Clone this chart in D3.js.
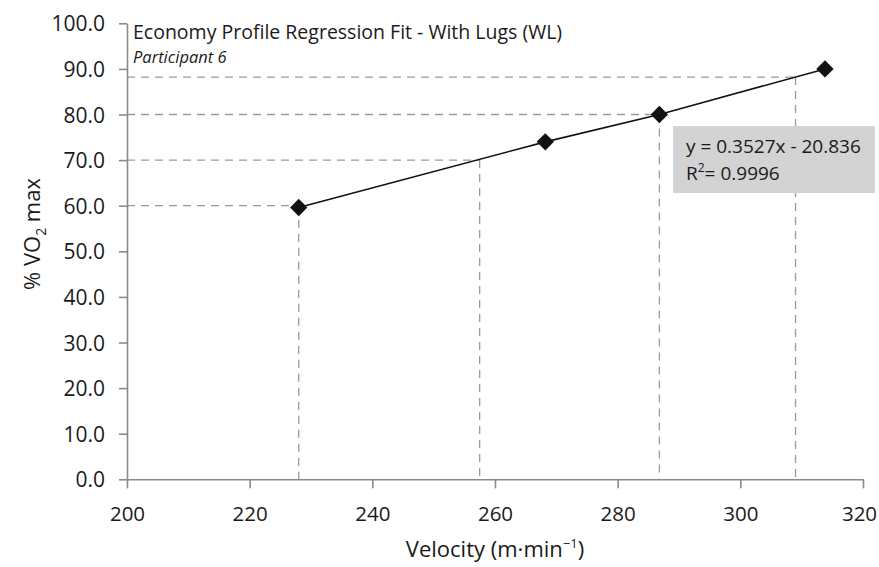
<!DOCTYPE html>
<html><head><meta charset="utf-8">
<script src="https://cdn.jsdelivr.net/npm/d3@7"></script>
<style>body{margin:0;background:#fff}svg{display:block}text{font-family:"Open Sans",sans-serif}</style>
</head><body><svg id="c" width="879" height="567"></svg>
<script>
const velocity = [228, 268.2, 286.8, 313.8];
const vo2 = [59.6, 74.0, 80.0, 90.0];
const guideLevels = [60, 70, 80, 88.2];
const guideVelocities = [228, 257.5, 286.8, 309];
const xTicks = [200, 220, 240, 260, 280, 300, 320];
const yTicks = [0, 10, 20, 30, 40, 50, 60, 70, 80, 90, 100];
const title = "Economy Profile Regression Fit - With Lugs (WL)";
const subtitle = "Participant 6";
const eqLine1 = "y = 0.3527x - 20.836";
const eqR2 = "0.9996";

const svg = d3.select("#c");
const x = d3.scaleLinear().domain([200, 320]).range([127, 863]);
const y = d3.scaleLinear().domain([0, 100]).range([479.3, 23.3]);
const axisColor = "#8a8a8a";

// guides
const g = svg.append("g");
guideLevels.forEach((lv, i) => {
  g.append("line").attr("x1", x(200)).attr("x2", x(guideVelocities[i]))
    .attr("y1", y(lv)).attr("y2", y(lv))
    .attr("stroke", "#9a9a9a").attr("stroke-width", 1.3).attr("stroke-dasharray", "8,6");
  g.append("line").attr("x1", x(guideVelocities[i])).attr("x2", x(guideVelocities[i]))
    .attr("y1", y(lv)).attr("y2", y(0))
    .attr("stroke", "#9a9a9a").attr("stroke-width", 1.3).attr("stroke-dasharray", "8,6");
});

// axes
const xa = svg.append("g").attr("transform", `translate(0,${y(0)})`)
  .call(d3.axisBottom(x).tickValues(xTicks).tickSize(9).tickSizeOuter(0).tickPadding(8).tickFormat(d3.format("d")));
const ya = svg.append("g").attr("transform", `translate(${x(200)},0)`)
  .call(d3.axisLeft(y).tickValues(yTicks).tickSize(8).tickSizeOuter(0).tickPadding(14).tickFormat(d3.format(".1f")));
[xa, ya].forEach(a => {
  a.selectAll("path,line").attr("stroke", axisColor).attr("stroke-width", 1.6);
  a.selectAll("text").attr("fill", "#1a1a1a");
});
ya.selectAll("text").style("font-size", "21px").attr("dy", "0.36em");
xa.selectAll("text").style("font-size", "20.5px").attr("y", 42).attr("dy", null)
  .attr("x", (d, i, n) => i === n.length - 1 ? -4 : 0);

// eq box
svg.append("rect").attr("x", 673).attr("y", 126).attr("width", 202).attr("height", 67).attr("fill", "#d3d3d3");
svg.append("text").attr("x", 686).attr("y", 153).attr("fill", "#1a1a1a").style("font-size", "19px").text(eqLine1);
const r2 = svg.append("text").attr("x", 686).attr("y", 180).attr("fill", "#1a1a1a").style("font-size", "19px");
r2.append("tspan").text("R");
r2.append("tspan").attr("dy", -8).style("font-size", "12px").text("2");
r2.append("tspan").attr("dy", 8).text("= " + eqR2);

// line + points
svg.append("path").datum(velocity.map((v, i) => [v, vo2[i]]))
  .attr("d", d3.line().x(d => x(d[0])).y(d => y(d[1])))
  .attr("fill", "none").attr("stroke", "#111").attr("stroke-width", 1.6);
svg.selectAll(".pt").data(velocity.map((v, i) => [v, vo2[i]])).enter().append("path")
  .attr("transform", d => `translate(${x(d[0])},${y(d[1])}) rotate(45)`)
  .attr("d", d3.symbol().type(d3.symbolSquare).size(150)).attr("fill", "#111");

// titles
svg.append("text").attr("x", 133).attr("y", 39).attr("fill", "#1a1a1a").style("font-size", "19.5px").text(title);
svg.append("text").attr("x", 133).attr("y", 63).attr("fill", "#1a1a1a").style("font-size", "16.5px").style("font-style", "italic").text(subtitle);

const xl = svg.append("text").attr("x", 495).attr("y", 557).attr("text-anchor", "middle").attr("fill", "#1a1a1a").style("font-size", "22px");
xl.append("tspan").text("Velocity (m\u00b7min");
xl.append("tspan").attr("dy", -9).style("font-size", "13px").text("\u22121");
xl.append("tspan").attr("dy", 9).text(")");

const yl = svg.append("text").attr("transform", "translate(40,234) rotate(-90)").attr("text-anchor", "middle").attr("fill", "#1a1a1a").style("font-size", "22px");
yl.append("tspan").text("% VO");
yl.append("tspan").attr("dy", 6).style("font-size", "14px").text("2");
yl.append("tspan").attr("dy", -6).text(" max");
</script></body></html>
